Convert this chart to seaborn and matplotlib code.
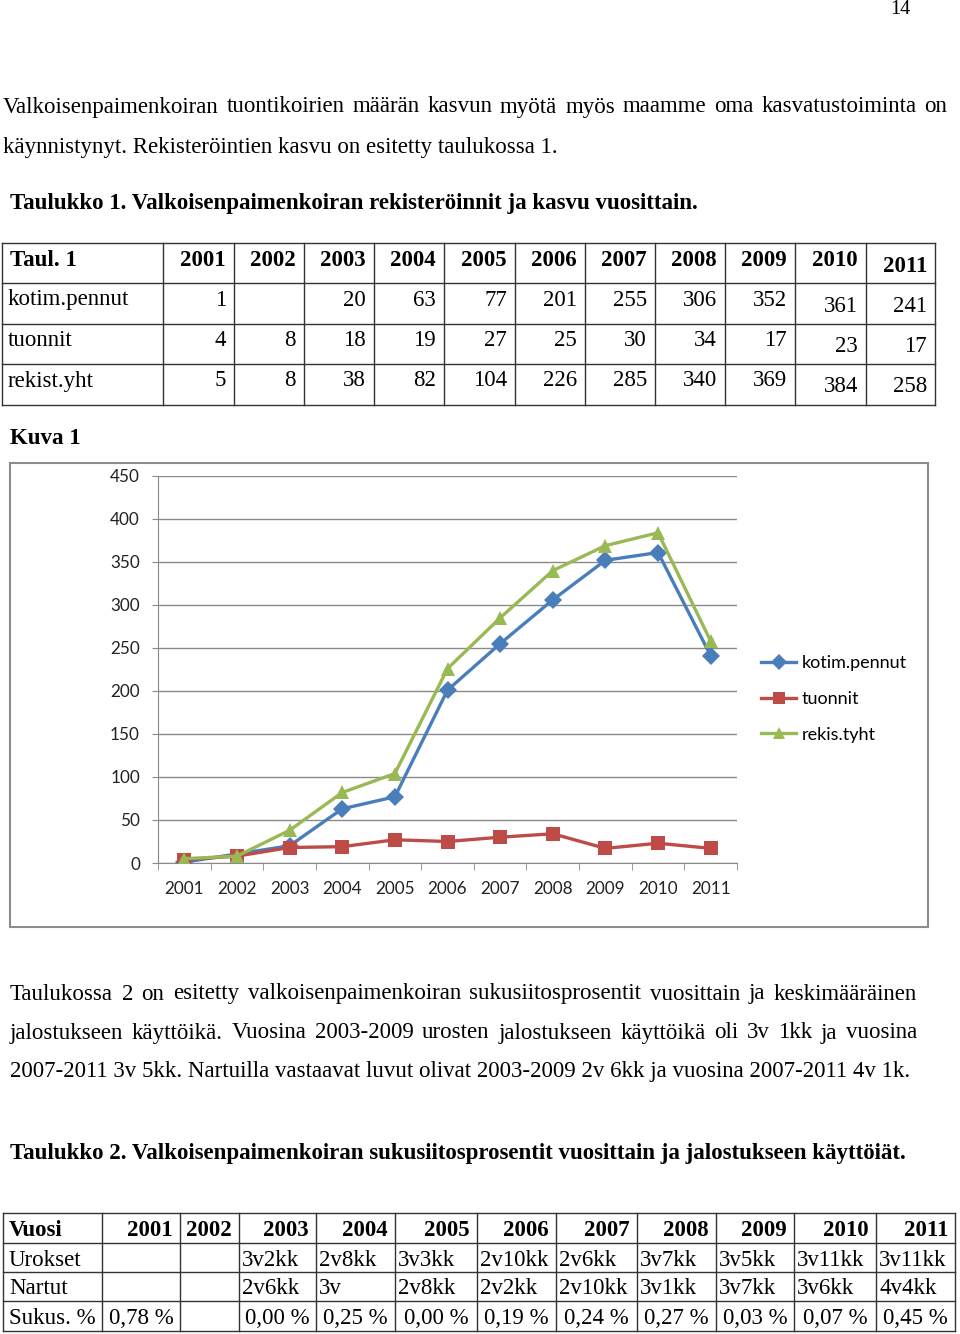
import numpy as np
import pandas as pd
import matplotlib
matplotlib.use("Agg")
import matplotlib.pyplot as plt
import seaborn as sns
from matplotlib.lines import Line2D
from matplotlib.patches import Rectangle

# --- data ---
years = [2001, 2002, 2003, 2004, 2005, 2006, 2007, 2008, 2009, 2010, 2011]
kotim = [1, np.nan, 20, 63, 77, 201, 255, 306, 352, 361, 241]
tuonnit = [4, 8, 18, 19, 27, 25, 30, 34, 17, 23, 17]
rekis = [5, 8, 38, 82, 104, 226, 285, 340, 369, 384, 258]
series_names = ["kotim.pennut", "tuonnit", "rekis.tyht"]
t1_rows = ["kotim.pennut", "tuonnit", "rekist.yht"]

t2_rows = ["Urokset", "Nartut", "Sukus. %"]
urokset = ["", "", "3v2kk", "2v8kk", "3v3kk", "2v10kk", "2v6kk", "3v7kk", "3v5kk", "3v11kk", "3v11kk"]
nartut = ["", "", "2v6kk", "3v", "2v8kk", "2v2kk", "2v10kk", "3v1kk", "3v7kk", "3v6kk", "4v4kk"]
sukus = ["0,78 %", "", "0,00 %", "0,25 %", "0,00 %", "0,19 %", "0,24 %", "0,27 %", "0,03 %", "0,07 %", "0,45 %"]

para1 = ["Valkoisenpaimenkoiran tuontikoirien määrän kasvun myötä myös maamme oma kasvatustoiminta on",
         "käynnistynyt. Rekisteröintien kasvu on esitetty taulukossa 1."]
para2 = ["Taulukossa 2 on esitetty valkoisenpaimenkoiran sukusiitosprosentit vuosittain ja keskimääräinen",
         "jalostukseen käyttöikä. Vuosina 2003-2009 urosten jalostukseen käyttöikä oli 3v 1kk ja vuosina",
         "2007-2011 3v 5kk. Nartuilla vastaavat luvut olivat 2003-2009 2v 6kk ja vuosina 2007-2011 4v 1k."]
cap1 = "Taulukko 1. Valkoisenpaimenkoiran rekisteröinnit ja kasvu vuosittain."
cap2 = "Taulukko 2. Valkoisenpaimenkoiran sukusiitosprosentit vuosittain ja jalostukseen käyttöiät."

W, H = 960, 1334
SERIF = "Liberation Serif"
FS = 16.5
LINE = "#333333"
DY = 2  # small baseline nudge

fig = plt.figure(figsize=(9.6, 13.34), dpi=100)
pg = fig.add_axes([0, 0, 1, 1])
pg.set_xlim(0, W)
pg.set_ylim(H, 0)
pg.axis("off")
renderer = fig.canvas.get_renderer()


def txt(x, y, s, size=FS, bold=False, ha="left"):
    return pg.text(x, y + DY, s, fontsize=size, family=SERIF, ha=ha, va="center",
                   fontweight="bold" if bold else "normal")


def justify(x0, x1, y, line, size=FS):
    words = line.split()
    arts = [txt(0, y, w, size) for w in words]
    widths = [a.get_window_extent(renderer).width for a in arts]
    gap = (x1 - x0 - sum(widths)) / (len(words) - 1)
    x = x0
    for a, w in zip(arts, widths):
        a.set_x(x)
        x += w + gap


def grid(xs, ys):
    for x in xs:
        pg.plot([x, x], [ys[0], ys[-1]], color=LINE, lw=1)
    for y in ys:
        pg.plot([xs[0], xs[-1]], [y, y], color=LINE, lw=1)


# page number + text
txt(910, 8, "14", size=14.5, ha="right")
justify(3, 947, 105, para1[0])
txt(3, 145, para1[1])
txt(10, 202, cap1, bold=True)

# table 1
t1_x = [2, 163, 234, 304, 374, 444, 515, 585, 655, 725, 795, 866, 935]
t1_y = [243, 283, 324, 364, 405]
grid(t1_x, t1_y)
txt(10, 258, "Taul. 1", bold=True)
for i, yr in enumerate(years):
    off = 6 if i == 10 else 0
    txt(t1_x[i + 2] - 8, 258 + off, str(yr), bold=True, ha="right")
for r, (name, vals) in enumerate(zip(t1_rows, [kotim, tuonnit, rekis])):
    yc = [298, 338, 379][r]
    txt(8, yc, name)
    for i, v in enumerate(vals):
        if np.isnan(v):
            continue
        off = 6 if i >= 9 else 0
        txt(t1_x[i + 2] - 8, yc + off, str(int(v)), ha="right")

txt(10, 437, "Kuva 1", bold=True)

# chart frame
pg.add_patch(Rectangle((10, 463), 918, 464, fill=False, ec="#8c8c8c", lw=1.5))

# chart
ax = fig.add_axes([158 / W, 1 - 863 / H, (737 - 158) / W, (863 - 476) / H])
ax.patch.set_alpha(0)
df = pd.DataFrame({"year": years * 3,
                   "value": kotim + tuonnit + rekis,
                   "series": np.repeat(series_names, len(years))})
palette = {"kotim.pennut": "#4A7EBB", "tuonnit": "#BE4B48", "rekis.tyht": "#98B954"}
markers = {"kotim.pennut": "D", "tuonnit": "s", "rekis.tyht": "^"}
msize = {"kotim.pennut": 9, "tuonnit": 9.5, "rekis.tyht": 10.5}
for n in series_names:
    sns.lineplot(data=df[df.series == n], x="year", y="value", color=palette[n],
                 marker=markers[n], markersize=msize[n], markeredgewidth=0,
                 lw=2.4, ax=ax, zorder=3)

ax.set_xlim(2000.5, 2011.5)
ax.set_ylim(0, 450)
ax.set_yticks(range(0, 451, 50))
ax.set_xticks(years)
ax.set_xticks(np.arange(2000.5, 2012, 1), minor=True)
ax.set_xlabel("")
ax.set_ylabel("")
ax.grid(axis="y", color="#8a8a8a", lw=1)
ax.set_axisbelow(True)
for s in ["top", "right"]:
    ax.spines[s].set_visible(False)
for s in ["left", "bottom"]:
    ax.spines[s].set_color("#8a8a8a")
ax.tick_params(axis="x", which="major", length=0, pad=13)
ax.tick_params(axis="x", which="minor", length=5, color="#8a8a8a")
ax.tick_params(axis="y", length=4, color="#8a8a8a", pad=9)
for lab in ax.get_xticklabels() + ax.get_yticklabels():
    lab.set_family("Lato")
    lab.set_fontsize(12.3)
    lab.set_color("#222222")

handles = [Line2D([], [], color=palette[n], marker=markers[n], lw=2.4,
                  markersize=msize[n] * 0.85, markeredgewidth=0) for n in series_names]
fig.legend(handles, series_names, loc="upper left",
           bbox_to_anchor=(761 / W, 1 - 655 / H), frameon=False,
           prop={"family": "Lato", "size": 13}, handlelength=1.95,
           handletextpad=0.3, labelspacing=1.1, borderpad=0, borderaxespad=0)

# paragraph 2
justify(10, 917, 992, para2[0])
justify(10, 917, 1031, para2[1])
txt(10, 1070, para2[2])
txt(10, 1151, cap2, bold=True)

# table 2
t2_x = [3, 102, 180, 239, 316, 395, 477, 556, 637, 716, 794, 876, 955]
t2_y = [1213, 1243, 1272, 1301, 1331]
grid(t2_x, t2_y)
txt(9, 1229, "Vuosi", bold=True)
for i, yr in enumerate(years):
    txt(t2_x[i + 2] - 7, 1229, str(yr), bold=True, ha="right")
for r, (name, vals) in enumerate(zip(t2_rows, [urokset, nartut, sukus])):
    yc = [1258, 1287, 1317][r]
    txt(9, yc, name)
    for i, v in enumerate(vals):
        if r < 2:
            txt(t2_x[i + 1] + 3, yc, v)
        else:
            txt((t2_x[i + 1] + t2_x[i + 2]) / 2, yc, v, ha="center")

fig.savefig("out.png", dpi=100)
